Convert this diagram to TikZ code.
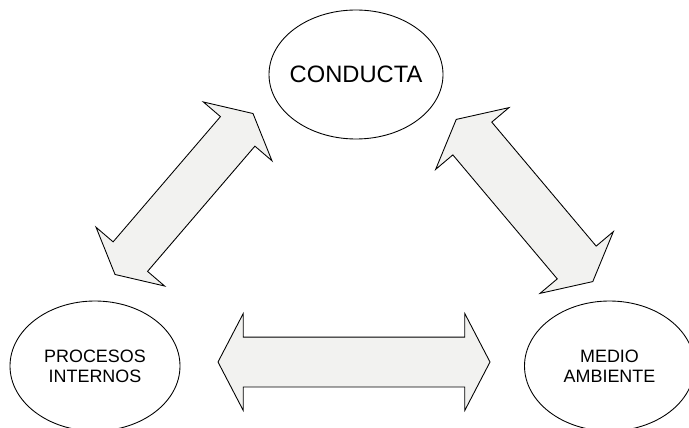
\documentclass[tikz,border=0pt]{standalone}
\usepackage{fontspec}
\setmainfont{Liberation Sans}
\usetikzlibrary{shapes.geometric,shapes.arrows}

\definecolor{paleGray}{RGB}{242,242,240}

\begin{document}
\begin{tikzpicture}[
	bubble/.style={draw, ellipse, line width=0.5pt, inner sep=0pt},
	twoway/.style={draw, double arrow, fill=paleGray, line width=0.5pt, inner xsep=0pt, double arrow tip angle=125}
]

\def\width{13.78}
\def\height{8.54}

\path [use as bounding box] (0,0) rectangle (\width,\height);

% ELLIPSES
\node [bubble, minimum width=3.48cm, minimum height=2.58cm,
	label={[font=\fontsize{13.5}{16}\selectfont]center:CONDUCTA}] (cond) at (7.12,7.05) {};
\node [bubble, minimum width=3.4cm, minimum height=2.6cm,
	label={[font=\fontsize{10.2}{11.4}\selectfont, align=center]center:PROCESOS\\INTERNOS}] (proc) at (1.9,1.22) {};
\node [bubble, minimum width=3.4cm, minimum height=2.6cm,
	label={[font=\fontsize{10.2}{11.4}\selectfont, align=center]center:MEDIO\\AMBIENTE}] (med) at (12.19,1.22) {};

% ARROWS
\node [twoway, minimum height=5.44cm, inner ysep=0.49cm, double arrow head extend=0.47cm] (proc-med) at (7.08,1.30) {};
\node [twoway, rotate=49.4, minimum height=4.24cm, inner ysep=0.445cm, double arrow head extend=0.45cm] (proc-cond) at (3.68,4.66) {};
\node [twoway, rotate=-49.9, minimum height=4.24cm, inner ysep=0.5cm, double arrow head extend=0.45cm] (cond-med) at (10.49,4.53) {};

\end{tikzpicture}
\end{document}
